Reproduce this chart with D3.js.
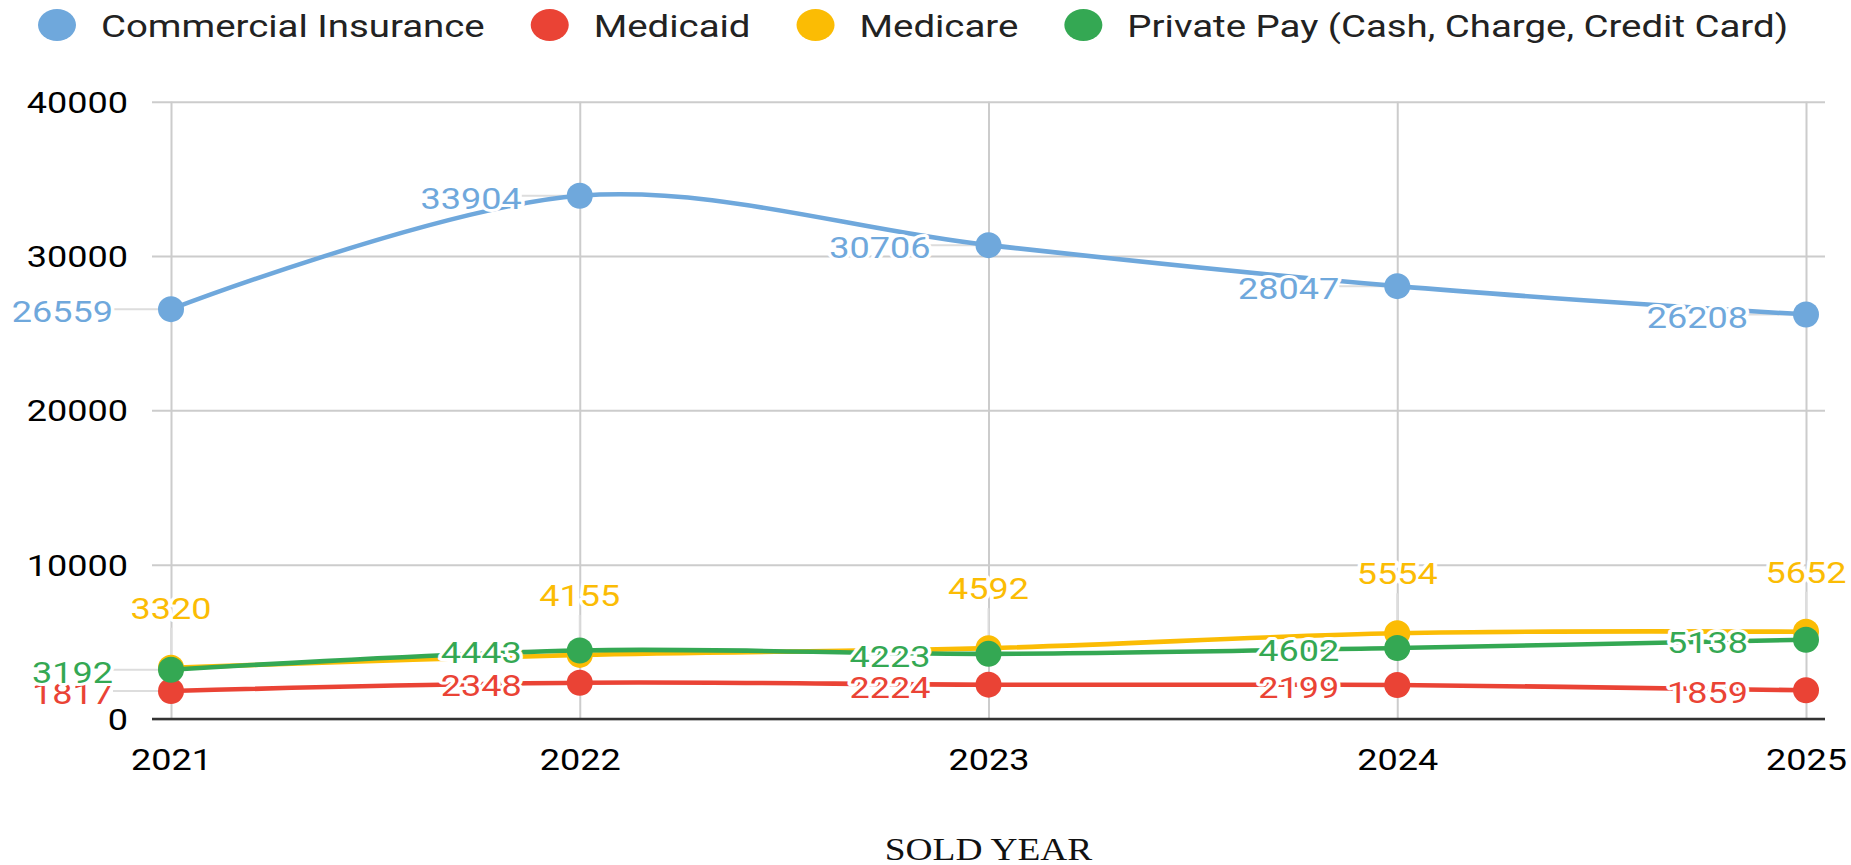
<!DOCTYPE html>
<html>
<head>
<meta charset="utf-8">
<script src="https://cdn.jsdelivr.net/npm/d3@7"></script>
<style>
  html, body { margin: 0; padding: 0; background: #fff; }
  svg { display: block; font-family: Roboto, "Liberation Sans", Arial, sans-serif; }
</style>
</head>
<body>
<svg id="chart" width="1851" height="865"></svg>
<script>
(() => {
    // Chart data.
    const YEARS = ["2021", "2022", "2023", "2024", "2025"];
    const SERIES_NAMES = ["Commercial Insurance", "Medicaid", "Medicare", "Private Pay (Cash, Charge, Credit Card)"];
    const COMMERCIAL = [26559, 33904, 30706, 28047, 26208];
    const MEDICAID = [1817, 2348, 2224, 2199, 1859];
    const MEDICARE = [3320, 4155, 4592, 5554, 5652];
    const PRIVATE_PAY = [3192, 4443, 4223, 4602, 5138];
    const Y_TICKS = [0, 10000, 20000, 30000, 40000];
    const X_TITLE = "SOLD YEAR";

    // Styling.
    const COLORS = ["#6fa8dc", "#ea4335", "#fbbc04", "#34a853"];
    const LABEL_SIDE = ["left", "left", "above", "left"];
    const STRETCH = 1.2;   // the picture's text is a bit wide
    const PLOT_LEFT = 152;
    const PLOT_RIGHT = 1825;
    const PLOT_TOP = 101.7;
    const PLOT_BOTTOM = 719;
    const POINT_RADIUS = 13;
    const LINE_WIDTH = 4.6;

    let svg = d3.select("#chart");

    let allSeries = [COMMERCIAL, MEDICAID, MEDICARE, PRIVATE_PAY].map((values, i) => ({
        name: SERIES_NAMES[i],
        color: COLORS[i],
        side: LABEL_SIDE[i],
        points: values.map((v, j) => ({ year: YEARS[j], value: v }))
    }));

    let x = d3.scalePoint().domain(YEARS).range([171, 1806]);
    let y = d3.scaleLinear().domain([0, 40000]).range([PLOT_BOTTOM, PLOT_TOP]);

    // Horizontal gridlines and y labels.
    let yAxis = svg.append("g")
        .attr("transform", `translate(${PLOT_LEFT},0)`)
        .call(d3.axisLeft(y).tickValues(Y_TICKS).tickSize(-(PLOT_RIGHT - PLOT_LEFT)).tickFormat(d3.format("d")));
    yAxis.select(".domain").remove();
    yAxis.selectAll(".tick line").attr("stroke", "#cccccc").attr("stroke-width", 2);
    yAxis.selectAll(".tick text")
        .attr("x", null).attr("dy", "0.35em")
        .attr("transform", `translate(-24,0) scale(${STRETCH},1)`)
        .attr("font-size", 30)
        .attr("font-family", "Roboto, sans-serif")
        .attr("fill", "#000");

    // Vertical gridlines and year labels.
    let xAxis = svg.append("g")
        .attr("transform", `translate(0,${PLOT_BOTTOM})`)
        .call(d3.axisBottom(x).tickSize(-(PLOT_BOTTOM - PLOT_TOP)));
    xAxis.select(".domain").remove();
    xAxis.selectAll(".tick line").attr("stroke", "#cccccc").attr("stroke-width", 2);
    xAxis.selectAll(".tick text")
        .attr("y", null).attr("dy", null)
        .attr("transform", `translate(0,51) scale(${STRETCH},1)`)
        .attr("font-size", 30)
        .attr("font-family", "Roboto, sans-serif")
        .attr("fill", "#000");

    // Zero baseline.
    svg.append("line")
        .attr("x1", PLOT_LEFT).attr("x2", PLOT_RIGHT)
        .attr("y1", y(0)).attr("y2", y(0))
        .attr("stroke", "#333").attr("stroke-width", 2.5);

    // Annotation stems (mostly hidden under the lines).
    allSeries.forEach(s => {
        svg.append("g").selectAll("line")
            .data(s.points)
            .join("line")
            .attr("x1", d => s.side === "left" ? x(d.year) - 58 : x(d.year))
            .attr("x2", d => x(d.year))
            .attr("y1", d => s.side === "left" ? y(d.value) : y(d.value) - 40)
            .attr("y2", d => y(d.value))
            .attr("stroke", "#dddddd")
            .attr("stroke-width", 2);
    });

    // Series lines and points.
    let line = d3.line()
        .x(d => x(d.year))
        .y(d => y(d.value))
        .curve(d3.curveCatmullRom);

    allSeries.forEach(s => {
        let g = svg.append("g");
        g.append("path")
            .datum(s.points)
            .attr("fill", "none")
            .attr("stroke", s.color)
            .attr("stroke-width", LINE_WIDTH)
            .attr("stroke-linejoin", "round")
            .attr("d", line);
        g.selectAll("circle")
            .data(s.points)
            .join("circle")
            .attr("cx", d => x(d.year))
            .attr("cy", d => y(d.value))
            .attr("r", POINT_RADIUS)
            .attr("fill", s.color);
    });

    // Data labels with a white halo.
    allSeries.forEach(s => {
        svg.append("g").selectAll("text")
            .data(s.points)
            .join("text")
            .attr("text-anchor", s.side === "left" ? "end" : "middle")
            .attr("transform", d => s.side === "left"
                ? `translate(${x(d.year) - 58},${y(d.value) + 13}) scale(${STRETCH},1)`
                : `translate(${x(d.year)},${y(d.value) - 49}) scale(${STRETCH},1)`)
            .attr("font-size", 30)
            .attr("fill", s.color)
            .attr("stroke", "#fff")
            .attr("stroke-width", 6)
            .attr("stroke-linejoin", "round")
            .attr("paint-order", "stroke")
            .text(d => d.value);
    });

    // Legend, laid out from the text widths.
    let legend = svg.append("g");
    let cursor = 38;
    allSeries.forEach(s => {
        let item = legend.append("g");
        item.append("ellipse")
            .attr("cx", cursor + 19).attr("cy", 25)
            .attr("rx", 19).attr("ry", 16)
            .attr("fill", s.color);
        let label = item.append("text")
            .attr("transform", `translate(${cursor + 63},37) scale(${STRETCH},1)`)
            .attr("font-size", 32)
            .attr("fill", "#222")
            .text(s.name);
        let w = label.node().getComputedTextLength() * STRETCH;
        cursor += 63 + w + 46;
    });

    // Axis title.
    svg.append("text")
        .attr("transform", `translate(${(PLOT_LEFT + PLOT_RIGHT) / 2},860) scale(1.17,1)`)
        .attr("text-anchor", "middle")
        .attr("font-family", "'Liberation Serif', 'Times New Roman', serif")
        .attr("font-size", 32)
        .attr("fill", "#111")
        .text(X_TITLE);
})();
</script>
</body>
</html>
